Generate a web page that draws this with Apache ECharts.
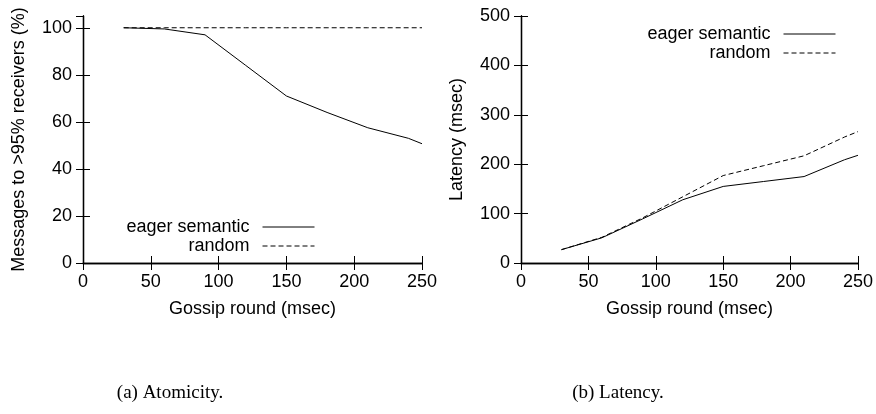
<!DOCTYPE html>
<html>
<head>
<meta charset="utf-8">
<script src="https://cdn.jsdelivr.net/npm/echarts@6/dist/echarts.min.js"></script>
<style>
html,body{margin:0;padding:0;background:#fff;}
#chart{width:876px;height:414px;}
</style>
</head>
<body>
<div id="chart"></div>
<script>
// Data
const gossipRounds = [30, 60, 90, 120, 150, 180, 210, 240, 250];
const atomicityEager = [100, 99.5, 97, 84, 71, 64, 57.5, 53, 50.7];
const atomicityRandom = [100, 100, 100, 100, 100, 100, 100, 100, 100];
const latencyEager = [27, 51, 89, 128, 155, 165, 175, 209, 218];
const latencyRandom = [27, 52, 91, 134, 177, 197, 217, 255, 266];
const seriesNames = ['eager semantic', 'random'];
const xTitle = 'Gossip round (msec)';
const yTitleLeft = 'Messages to >95% receivers (%)';
const yTitleRight = 'Latency (msec)';
const captions = ['(a) Atomicity.', '(b) Latency.'];

const FONT = 'Liberation Sans, Arial, sans-serif';
const FS = 18;

function pairs(xs, ys){ return xs.map((x,i)=>[x, ys[i]]); }

function xAxes(gi){
  return [
    {
      type:'value', gridIndex:gi, min:0, max:250, interval:50, position:'bottom',
      axisLine:{show:true, lineStyle:{color:'#000', width:1.3}},
      axisTick:{show:true, inside:true, length:7, lineStyle:{color:'#000'}},
      axisLabel:{show:true, color:'#000', fontFamily:FONT, fontSize:FS, margin:10},
      splitLine:{show:false},
      name:xTitle, nameLocation:'middle', nameGap:37,
      nameTextStyle:{color:'#000', fontFamily:FONT, fontSize:FS}
    },
    {
      type:'value', gridIndex:gi, min:0, max:250, interval:50, position:'top',
      axisLine:{show:true, lineStyle:{color:'#000', width:1.3}},
      axisTick:{show:true, inside:true, length:7, lineStyle:{color:'#000'}},
      axisLabel:{show:false}, splitLine:{show:false}
    }
  ];
}
function yAxes(gi, max, interval, name){
  return [
    {
      type:'value', gridIndex:gi, min:0, max:max, interval:interval, position:'left',
      axisLine:{show:true, lineStyle:{color:'#000', width:1.3}},
      axisTick:{show:true, inside:true, length:7, lineStyle:{color:'#000'}},
      axisLabel:{show:true, color:'#000', fontFamily:FONT, fontSize:FS, margin:11, showMaxLabel: max % interval === 0},
      splitLine:{show:false},
      name:name, nameLocation:'middle', nameGap:55, nameRotate:90,
      nameTextStyle:{color:'#000', fontFamily:FONT, fontSize:FS}
    },
    {
      type:'value', gridIndex:gi, min:0, max:max, interval:interval, position:'right',
      axisLine:{show:true, lineStyle:{color:'#000', width:1.3}},
      axisTick:{show:true, inside:true, length:7, lineStyle:{color:'#000'}},
      axisLabel:{show:false}, splitLine:{show:false}
    }
  ];
}
function line(name, xi, yi, xs, ys, dashed){
  return {
    name:name, type:'line', xAxisIndex:xi, yAxisIndex:yi,
    data:pairs(xs, ys), symbol:'none', smooth:false, animation:false,
    lineStyle:{color:'#000', width:1, type: dashed ? [5,3] : 'solid'},
    itemStyle:{color:'#000'}
  };
}
function legend(right, top){
  return {
    orient:'vertical', align:'right', right:right, top:top, padding:0,
    itemWidth:52, itemHeight:14, itemGap:1,
    selectedMode:false,
    data:seriesNames,
    itemStyle:{color:'rgba(0,0,0,0)', borderWidth:0, opacity:0},
    lineStyle:{width:1},
    textStyle:{color:'#000', fontFamily:FONT, fontSize:FS, lineHeight:18, padding:[0,8,0,0]}
  };
}

const chart = echarts.init(document.getElementById('chart'), null, {renderer:'canvas'});
chart.setOption({
  backgroundColor:'#fff',
  animation:false,
  title: captions.map((c,i)=>({
    text:c, left: i===0 ? 165 : 613, top:379, textAlign:'center',
    textStyle:{fontFamily:'Liberation Serif, Times New Roman, serif', fontSize:19, fontWeight:'normal', color:'#000'}
  })),
  grid:[
    {left:83, right:454, top:16, bottom:151, show:false},
    {left:521, right:17, top:16, bottom:151, show:false}
  ],
  xAxis: xAxes(0).concat(xAxes(1)),
  yAxis: yAxes(0, 105, 20, yTitleLeft).concat(yAxes(1, 500, 100, yTitleRight)),
  legend:[ legend(561, 218), legend(40, 25) ],
  series:[
    line(seriesNames[0], 0, 0, gossipRounds, atomicityEager, false),
    line(seriesNames[1], 0, 0, gossipRounds, atomicityRandom, true),
    line(seriesNames[0], 2, 2, gossipRounds, latencyEager, false),
    line(seriesNames[1], 2, 2, gossipRounds, latencyRandom, true)
  ]
});
</script>
</body>
</html>
